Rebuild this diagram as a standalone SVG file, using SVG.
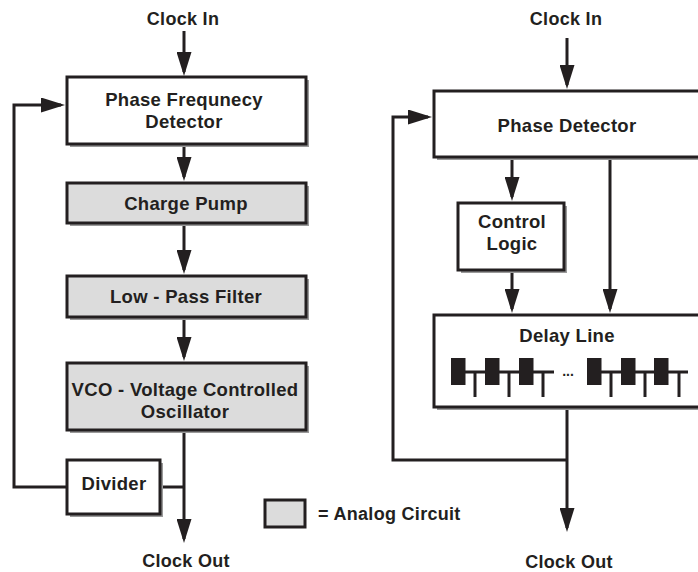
<svg xmlns="http://www.w3.org/2000/svg" width="698" height="572" viewBox="0 0 698 572">
<defs>
<style>
.t{font-family:"Liberation Sans",Arial,Helvetica,sans-serif;font-weight:bold;font-size:18.5px;fill:#231f20;text-anchor:middle;letter-spacing:0.3px}
.o{font-size:18px}
.box{fill:#ffffff;stroke:#231f20;stroke-width:3}
.ana{fill:#dcdcdc;stroke:#231f20;stroke-width:3}
.sh{fill:#9a9a9a}
.ln{fill:none;stroke:#231f20;stroke-width:3}
.arr{fill:none;stroke:#231f20;stroke-width:3;marker-end:url(#ah)}
.el{fill:#231f20}
</style>
<marker id="ah" viewBox="0 0 24 15" refX="20" refY="7.5" markerWidth="24" markerHeight="15" markerUnits="userSpaceOnUse" orient="auto">
<path d="M0,0 L24,7.5 L0,15 Z" fill="#231f20"/>
</marker>
</defs>
<rect width="698" height="572" fill="#ffffff"/>

<g id="connectors">
<line class="arr" x1="184" y1="31" x2="184" y2="72"/>
<line class="arr" x1="184" y1="144" x2="184" y2="177"/>
<line class="arr" x1="184" y1="223" x2="184" y2="270"/>
<line class="arr" x1="184" y1="317" x2="184" y2="357"/>
<line class="arr" x1="184" y1="430" x2="184" y2="539"/>
<line class="ln" x1="160" y1="487" x2="184" y2="487"/>
<path class="arr" d="M67,487 H14 V105 H61"/>

<line class="arr" x1="567" y1="38" x2="567" y2="85"/>
<line class="arr" x1="512" y1="157" x2="512" y2="197"/>
<line class="arr" x1="610" y1="157" x2="610" y2="309"/>
<line class="arr" x1="512" y1="270" x2="512" y2="309"/>
<line class="arr" x1="567" y1="407" x2="567" y2="528"/>
<path class="arr" d="M567,460 H393 V117 H428"/>
</g>

<g id="clock-in-left"><text class="t o" x="183" y="25">Clock In</text></g>
<g id="clock-out-left"><text class="t o" x="186" y="567">Clock Out</text></g>
<g id="clock-in-right"><text class="t o" x="566" y="25">Clock In</text></g>
<g id="clock-out-right"><text class="t o" x="569" y="568">Clock Out</text></g>

<g id="pfd">
<rect class="sh" x="70" y="80" width="239" height="67"/>
<rect class="box" x="67" y="77" width="239" height="67"/>
<text class="t" x="184" y="106">Phase Frequnecy</text>
<text class="t" x="184" y="128">Detector</text>
</g>

<g id="charge-pump">
<rect class="sh" x="70" y="186" width="239" height="40"/>
<rect class="ana" x="67" y="183" width="239" height="40"/>
<text class="t" x="186" y="210">Charge Pump</text>
</g>

<g id="low-pass-filter">
<rect class="sh" x="70" y="279" width="239" height="41"/>
<rect class="ana" x="67" y="276" width="239" height="41"/>
<text class="t" x="186" y="303">Low - Pass Filter</text>
</g>

<g id="vco">
<rect class="sh" x="70" y="366" width="239" height="67"/>
<rect class="ana" x="67" y="363" width="239" height="67"/>
<text class="t" x="185" y="396">VCO - Voltage Controlled</text>
<text class="t" x="185" y="418">Oscillator</text>
</g>

<g id="divider">
<rect class="sh" x="70" y="463" width="93" height="54"/>
<rect class="box" x="67" y="460" width="93" height="54"/>
<text class="t" x="114" y="490">Divider</text>
</g>

<g id="phase-detector">
<rect class="sh" x="437" y="94" width="300" height="66"/>
<rect class="box" x="434" y="91" width="300" height="66"/>
<text class="t" x="567" y="132">Phase Detector</text>
</g>

<g id="control-logic">
<rect class="sh" x="461" y="206" width="106" height="67"/>
<rect class="box" x="458" y="203" width="106" height="67"/>
<text class="t" x="512" y="228">Control</text>
<text class="t" x="512" y="250">Logic</text>
</g>

<g id="delay-line">
<rect class="sh" x="437" y="318" width="300" height="92"/>
<rect class="box" x="434" y="315" width="300" height="92"/>
<text class="t" x="567" y="342">Delay Line</text>
<line class="ln" x1="451" y1="372" x2="554" y2="372"/>
<line class="ln" x1="590" y1="372" x2="688" y2="372"/>
<rect class="el" x="451" y="358" width="14.5" height="27"/>
<rect class="el" x="485" y="358" width="14.5" height="27"/>
<rect class="el" x="519" y="358" width="14.5" height="27"/>
<rect class="el" x="587" y="358" width="14.5" height="27"/>
<rect class="el" x="621" y="358" width="14.5" height="27"/>
<rect class="el" x="654" y="358" width="14.5" height="27"/>
<line class="ln" x1="475" y1="372" x2="475" y2="397"/>
<line class="ln" x1="509" y1="372" x2="509" y2="397"/>
<line class="ln" x1="543" y1="372" x2="543" y2="397"/>
<line class="ln" x1="611" y1="372" x2="611" y2="397"/>
<line class="ln" x1="645" y1="372" x2="645" y2="397"/>
<line class="ln" x1="679" y1="372" x2="679" y2="397"/>
<text class="t" x="568" y="376" style="font-size:14px;letter-spacing:0">...</text>
</g>

<g id="legend">
<rect class="ana" x="265" y="500" width="40" height="27"/>
<text class="t o" x="318" y="520" style="text-anchor:start">= Analog Circuit</text>
</g>
</svg>
